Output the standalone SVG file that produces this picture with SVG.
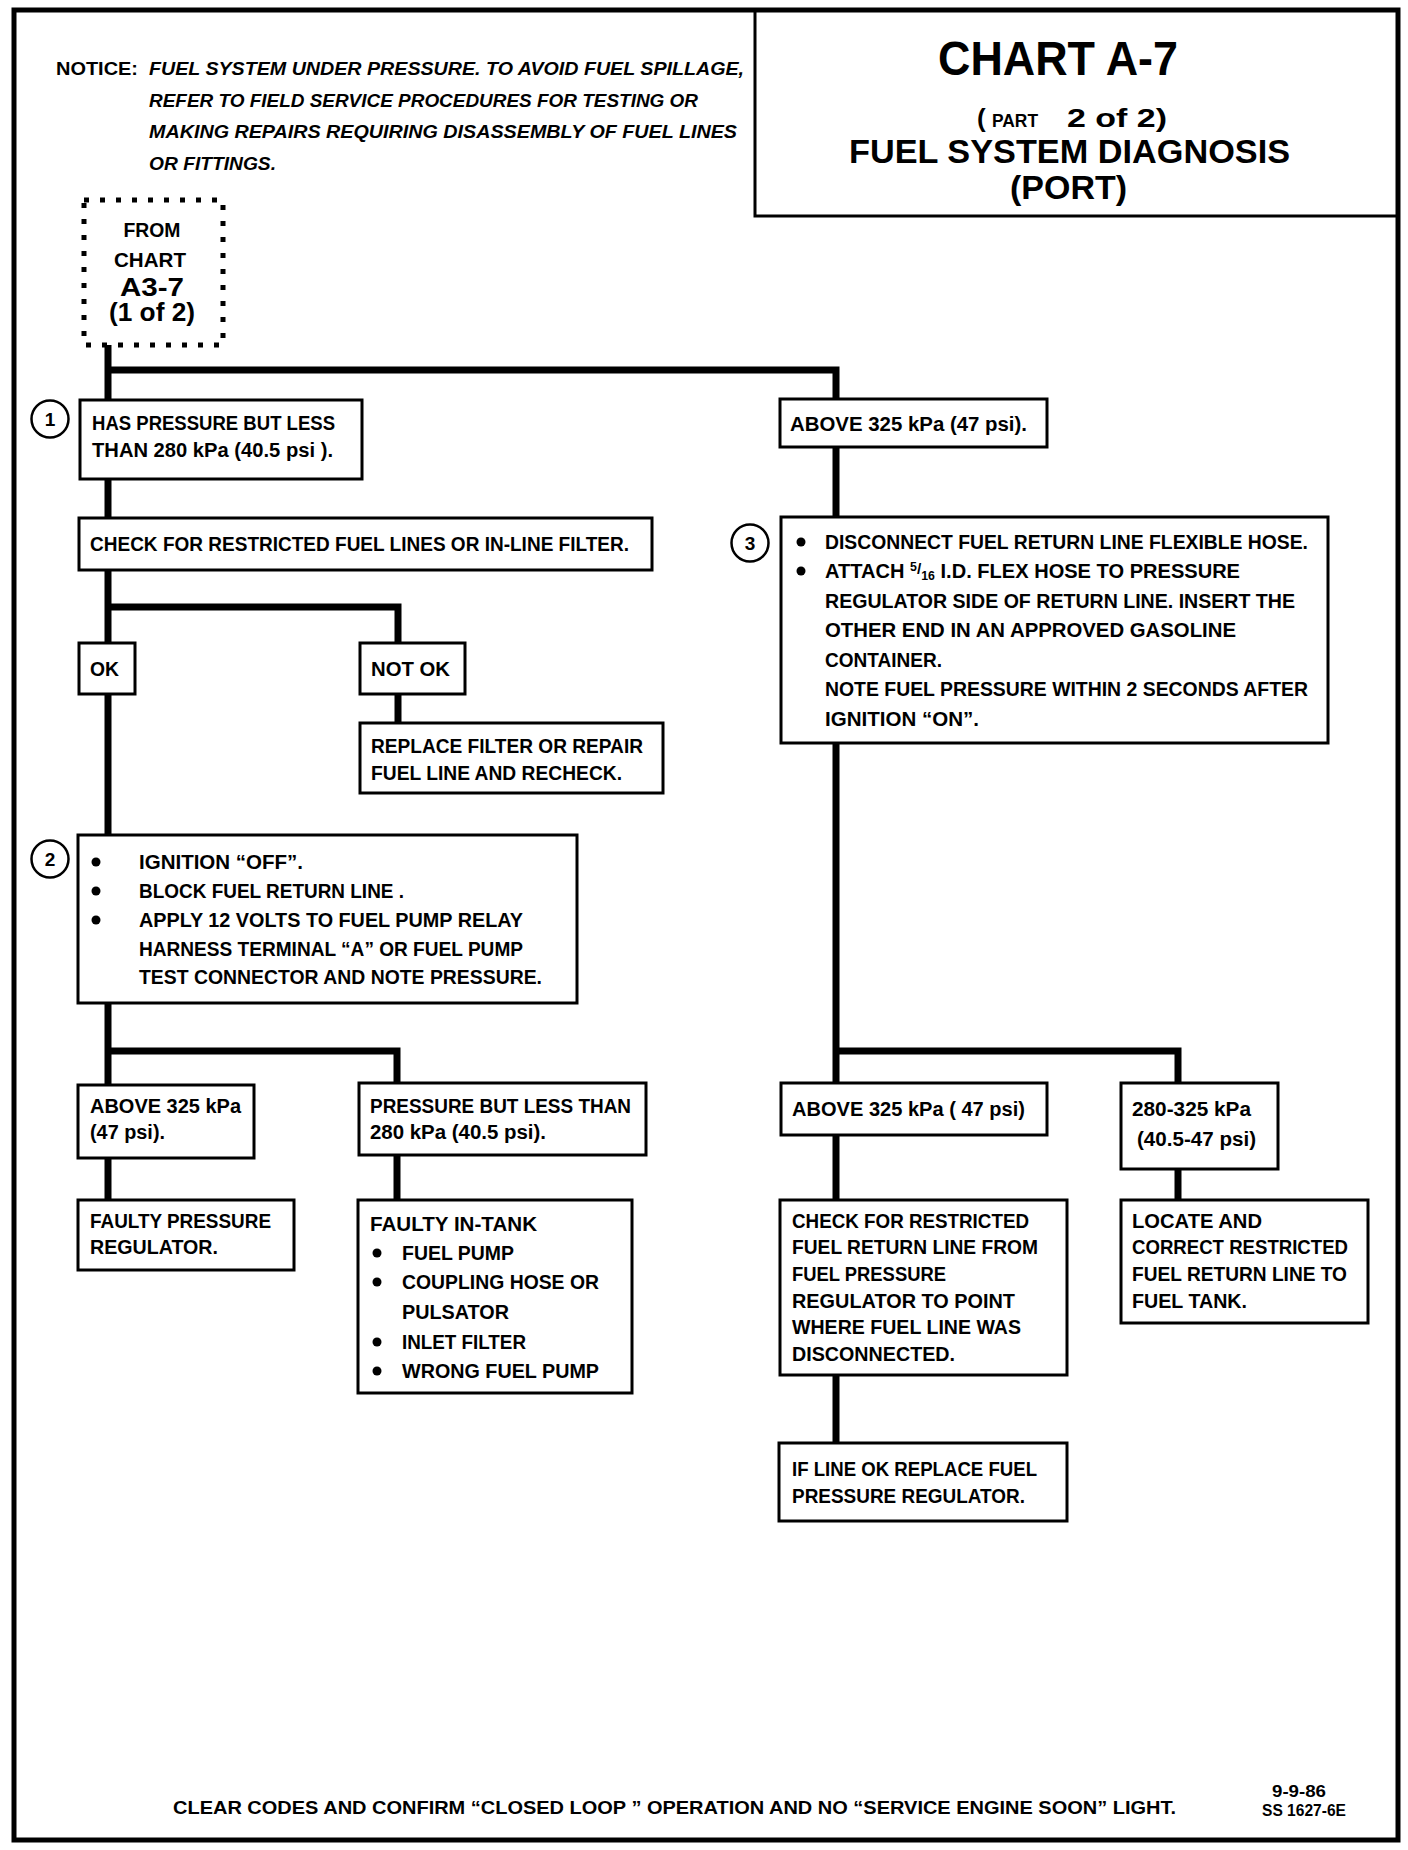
<svg xmlns="http://www.w3.org/2000/svg" width="1408" height="1850" viewBox="0 0 1408 1850">
<style>
.t{font-family:"Liberation Sans",Arial,sans-serif;font-weight:bold;font-size:19.5px;fill:#000}
.n{font-family:"Liberation Sans",Arial,sans-serif;font-weight:bold;font-style:italic;font-size:18px;fill:#000}
.box{fill:#fff;stroke:#000;stroke-width:3}
.conn{fill:none;stroke:#000;stroke-width:7;stroke-linejoin:miter}
.num{fill:#fff;stroke:#000;stroke-width:2.5}
.b{fill:#000}
</style>
<rect width="1408" height="1850" fill="#fff"/>
<rect x="14" y="10" width="1384" height="1830" fill="none" stroke="#000" stroke-width="5"/>

<g id="title">
<path d="M755 10 V216 H1398" fill="none" stroke="#000" stroke-width="3"/>
<text class="t" x="938" y="75" style="font-size:48px" textLength="240" lengthAdjust="spacingAndGlyphs">CHART A-7</text>
<text class="t" x="977" y="127" style="font-size:26px">(</text>
<text class="t" x="992" y="127" style="font-size:18px" textLength="46" lengthAdjust="spacingAndGlyphs">PART</text>
<text class="t" x="1067" y="127" style="font-size:26px" textLength="100" lengthAdjust="spacingAndGlyphs">2 of 2)</text>
<text class="t" x="849" y="163" style="font-size:33px" textLength="441" lengthAdjust="spacingAndGlyphs">FUEL SYSTEM DIAGNOSIS</text>
<text class="t" x="1010" y="199" style="font-size:33px" textLength="117" lengthAdjust="spacingAndGlyphs">(PORT)</text>
</g>

<g id="notice">
<text class="t" x="56" y="75" style="font-size:19px" textLength="82" lengthAdjust="spacingAndGlyphs">NOTICE:</text>
<text class="n" x="149" y="75" textLength="595" lengthAdjust="spacingAndGlyphs">FUEL SYSTEM UNDER PRESSURE.  TO AVOID FUEL SPILLAGE,</text>
<text class="n" x="149" y="107" textLength="549" lengthAdjust="spacingAndGlyphs">REFER TO FIELD SERVICE PROCEDURES FOR TESTING OR</text>
<text class="n" x="149" y="138" textLength="588" lengthAdjust="spacingAndGlyphs">MAKING REPAIRS REQUIRING DISASSEMBLY OF FUEL LINES</text>
<text class="n" x="149" y="170" textLength="127" lengthAdjust="spacingAndGlyphs">OR FITTINGS.</text>
</g>

<g id="connectors">
<path class="conn" d="M108 345 V400 M108 370 H836 V399"/>
<path class="conn" d="M108 479 V518"/>
<path class="conn" d="M108 570 V643 M108 607 H398 V643"/>
<path class="conn" d="M398 694 V723"/>
<path class="conn" d="M108 694 V835"/>
<path class="conn" d="M108 1003 V1085 M108 1051 H397 V1083"/>
<path class="conn" d="M108 1158 V1200"/>
<path class="conn" d="M397 1155 V1200"/>
<path class="conn" d="M836 447 V517"/>
<path class="conn" d="M836 743 V1083 M836 1051 H1178 V1083"/>
<path class="conn" d="M1178 1169 V1200"/>
<path class="conn" d="M836 1135 V1200"/>
<path class="conn" d="M836 1375 V1443"/>
</g>

<g id="from-chart">
<rect x="84" y="200" width="139" height="145" fill="#fff" stroke="#000" stroke-width="5" stroke-dasharray="5 11"/>
<text class="t" x="152" y="237" style="font-size:21px" text-anchor="middle" textLength="57" lengthAdjust="spacingAndGlyphs">FROM</text>
<text class="t" x="150" y="267" style="font-size:21px" text-anchor="middle" textLength="72" lengthAdjust="spacingAndGlyphs">CHART</text>
<text class="t" x="152" y="296" style="font-size:25px" text-anchor="middle" textLength="64" lengthAdjust="spacingAndGlyphs">A3-7</text>
<text class="t" x="152" y="321" style="font-size:25px" text-anchor="middle" textLength="86" lengthAdjust="spacingAndGlyphs">(1 of 2)</text>
</g>

<g id="step1">
<circle class="num" cx="50" cy="419" r="18.5"/>
<text class="t" x="50" y="426" style="font-size:19px" text-anchor="middle">1</text>
<rect class="box" x="80" y="400" width="282" height="79"/>
<text class="t" x="92" y="430" textLength="243" lengthAdjust="spacingAndGlyphs">HAS PRESSURE BUT LESS</text>
<text class="t" x="92" y="457" textLength="241" lengthAdjust="spacingAndGlyphs">THAN 280 kPa (40.5 psi ).</text>
</g>

<g id="check-lines">
<rect class="box" x="79" y="518" width="573" height="52"/>
<text class="t" x="90" y="551" textLength="539" lengthAdjust="spacingAndGlyphs">CHECK FOR RESTRICTED FUEL LINES OR IN-LINE FILTER.</text>
</g>

<g id="ok">
<rect class="box" x="79" y="643" width="56" height="51"/>
<text class="t" x="90" y="676" textLength="29" lengthAdjust="spacingAndGlyphs">OK</text>
</g>

<g id="not-ok">
<rect class="box" x="360" y="643" width="105" height="51"/>
<text class="t" x="371" y="676" textLength="79" lengthAdjust="spacingAndGlyphs">NOT OK</text>
</g>

<g id="replace-filter">
<rect class="box" x="360" y="723" width="303" height="70"/>
<text class="t" x="371" y="753" textLength="272" lengthAdjust="spacingAndGlyphs">REPLACE FILTER  OR REPAIR</text>
<text class="t" x="371" y="780" textLength="251" lengthAdjust="spacingAndGlyphs">FUEL LINE AND RECHECK.</text>
</g>

<g id="step2">
<circle class="num" cx="50" cy="859" r="18.5"/>
<text class="t" x="50" y="866" style="font-size:19px" text-anchor="middle">2</text>
<rect class="box" x="78" y="835" width="499" height="168"/>
<circle class="b" cx="96" cy="862" r="4.5"/>
<circle class="b" cx="96" cy="891" r="4.5"/>
<circle class="b" cx="96" cy="920" r="4.5"/>
<text class="t" x="139" y="869" textLength="164" lengthAdjust="spacingAndGlyphs">IGNITION “OFF”.</text>
<text class="t" x="139" y="898" textLength="265" lengthAdjust="spacingAndGlyphs">BLOCK FUEL RETURN LINE .</text>
<text class="t" x="139" y="927" textLength="384" lengthAdjust="spacingAndGlyphs">APPLY 12 VOLTS TO FUEL PUMP RELAY</text>
<text class="t" x="139" y="956" textLength="384" lengthAdjust="spacingAndGlyphs">HARNESS TERMINAL “A” OR FUEL PUMP</text>
<text class="t" x="139" y="984" textLength="403" lengthAdjust="spacingAndGlyphs">TEST CONNECTOR AND NOTE PRESSURE.</text>
</g>

<g id="above-325-a">
<rect class="box" x="780" y="399" width="267" height="48"/>
<text class="t" x="790" y="431" textLength="237" lengthAdjust="spacingAndGlyphs">ABOVE 325 kPa (47 psi).</text>
</g>

<g id="step3">
<circle class="num" cx="750" cy="543" r="18.5"/>
<text class="t" x="750" y="550" style="font-size:19px" text-anchor="middle">3</text>
<rect class="box" x="781" y="517" width="547" height="226"/>
<circle class="b" cx="801" cy="542" r="4.5"/>
<circle class="b" cx="801" cy="571" r="4.5"/>
<text class="t" x="825" y="549" textLength="483" lengthAdjust="spacingAndGlyphs">DISCONNECT FUEL RETURN LINE FLEXIBLE HOSE.</text>
<text class="t" x="825" y="578" textLength="415" lengthAdjust="spacingAndGlyphs">ATTACH <tspan style="font-size:12px" dy="-7">5</tspan><tspan style="font-size:15px" dy="3">/</tspan><tspan style="font-size:12px" dy="6">16</tspan><tspan dy="-2"> I.D. FLEX HOSE TO PRESSURE</tspan></text>
<text class="t" x="825" y="608" textLength="470" lengthAdjust="spacingAndGlyphs">REGULATOR SIDE OF RETURN LINE.  INSERT THE</text>
<text class="t" x="825" y="637" textLength="411" lengthAdjust="spacingAndGlyphs">OTHER END IN  AN  APPROVED GASOLINE</text>
<text class="t" x="825" y="667" textLength="117" lengthAdjust="spacingAndGlyphs">CONTAINER.</text>
<text class="t" x="825" y="696" textLength="483" lengthAdjust="spacingAndGlyphs">NOTE FUEL PRESSURE WITHIN 2 SECONDS AFTER</text>
<text class="t" x="825" y="726" textLength="154" lengthAdjust="spacingAndGlyphs">IGNITION “ON”.</text>
</g>

<g id="above-325-b">
<rect class="box" x="78" y="1085" width="176" height="73"/>
<text class="t" x="90" y="1113" textLength="151" lengthAdjust="spacingAndGlyphs">ABOVE 325 kPa</text>
<text class="t" x="90" y="1139" textLength="75" lengthAdjust="spacingAndGlyphs">(47 psi).</text>
</g>

<g id="pressure-less">
<rect class="box" x="359" y="1083" width="287" height="72"/>
<text class="t" x="370" y="1113" textLength="261" lengthAdjust="spacingAndGlyphs">PRESSURE BUT LESS THAN</text>
<text class="t" x="370" y="1139" textLength="176" lengthAdjust="spacingAndGlyphs">280 kPa (40.5 psi).</text>
</g>

<g id="faulty-regulator">
<rect class="box" x="78" y="1200" width="216" height="70"/>
<text class="t" x="90" y="1228" textLength="181" lengthAdjust="spacingAndGlyphs">FAULTY PRESSURE</text>
<text class="t" x="90" y="1254" textLength="128" lengthAdjust="spacingAndGlyphs">REGULATOR.</text>
</g>

<g id="faulty-in-tank">
<rect class="box" x="358" y="1200" width="274" height="193"/>
<text class="t" x="370" y="1231" textLength="167" lengthAdjust="spacingAndGlyphs">FAULTY IN-TANK</text>
<circle class="b" cx="377" cy="1253" r="4.5"/>
<circle class="b" cx="377" cy="1282" r="4.5"/>
<circle class="b" cx="377" cy="1342" r="4.5"/>
<circle class="b" cx="377" cy="1371" r="4.5"/>
<text class="t" x="402" y="1260" textLength="112" lengthAdjust="spacingAndGlyphs">FUEL PUMP</text>
<text class="t" x="402" y="1289" textLength="197" lengthAdjust="spacingAndGlyphs">COUPLING HOSE OR</text>
<text class="t" x="402" y="1319" textLength="107" lengthAdjust="spacingAndGlyphs">PULSATOR</text>
<text class="t" x="402" y="1349" textLength="124" lengthAdjust="spacingAndGlyphs">INLET FILTER</text>
<text class="t" x="402" y="1378" textLength="197" lengthAdjust="spacingAndGlyphs">WRONG FUEL PUMP</text>
</g>

<g id="above-325-c">
<rect class="box" x="781" y="1083" width="266" height="52"/>
<text class="t" x="792" y="1116" textLength="233" lengthAdjust="spacingAndGlyphs">ABOVE 325 kPa ( 47 psi)</text>
</g>

<g id="range-280-325">
<rect class="box" x="1121" y="1083" width="157" height="86"/>
<text class="t" x="1132" y="1116" textLength="119" lengthAdjust="spacingAndGlyphs">280-325 kPa</text>
<text class="t" x="1137" y="1146" textLength="119" lengthAdjust="spacingAndGlyphs">(40.5-47 psi)</text>
</g>

<g id="check-return">
<rect class="box" x="780" y="1200" width="287" height="175"/>
<text class="t" x="792" y="1228" textLength="237" lengthAdjust="spacingAndGlyphs">CHECK FOR RESTRICTED</text>
<text class="t" x="792" y="1254" textLength="246" lengthAdjust="spacingAndGlyphs">FUEL RETURN LINE FROM</text>
<text class="t" x="792" y="1281" textLength="154" lengthAdjust="spacingAndGlyphs">FUEL PRESSURE</text>
<text class="t" x="792" y="1308" textLength="223" lengthAdjust="spacingAndGlyphs">REGULATOR TO POINT</text>
<text class="t" x="792" y="1334" textLength="229" lengthAdjust="spacingAndGlyphs">WHERE FUEL LINE WAS</text>
<text class="t" x="792" y="1361" textLength="163" lengthAdjust="spacingAndGlyphs">DISCONNECTED.</text>
</g>

<g id="locate">
<rect class="box" x="1121" y="1200" width="247" height="123"/>
<text class="t" x="1132" y="1228" textLength="130" lengthAdjust="spacingAndGlyphs">LOCATE AND</text>
<text class="t" x="1132" y="1254" textLength="216" lengthAdjust="spacingAndGlyphs">CORRECT RESTRICTED</text>
<text class="t" x="1132" y="1281" textLength="215" lengthAdjust="spacingAndGlyphs">FUEL RETURN LINE TO</text>
<text class="t" x="1132" y="1308" textLength="115" lengthAdjust="spacingAndGlyphs">FUEL TANK.</text>
</g>

<g id="replace-regulator">
<rect class="box" x="779" y="1443" width="288" height="78"/>
<text class="t" x="792" y="1476" textLength="245" lengthAdjust="spacingAndGlyphs">IF LINE OK REPLACE FUEL</text>
<text class="t" x="792" y="1503" textLength="233" lengthAdjust="spacingAndGlyphs">PRESSURE REGULATOR.</text>
</g>

<g id="footer">
<text class="t" x="173" y="1814" style="font-size:18.5px" textLength="1003" lengthAdjust="spacingAndGlyphs">CLEAR CODES AND CONFIRM “CLOSED LOOP ” OPERATION AND NO “SERVICE ENGINE SOON” LIGHT.</text>
<text class="t" x="1272" y="1797" style="font-size:17px" textLength="54" lengthAdjust="spacingAndGlyphs">9-9-86</text>
<text class="t" x="1262" y="1816" style="font-size:17px" textLength="84" lengthAdjust="spacingAndGlyphs">SS 1627-6E</text>
</g>
</svg>
